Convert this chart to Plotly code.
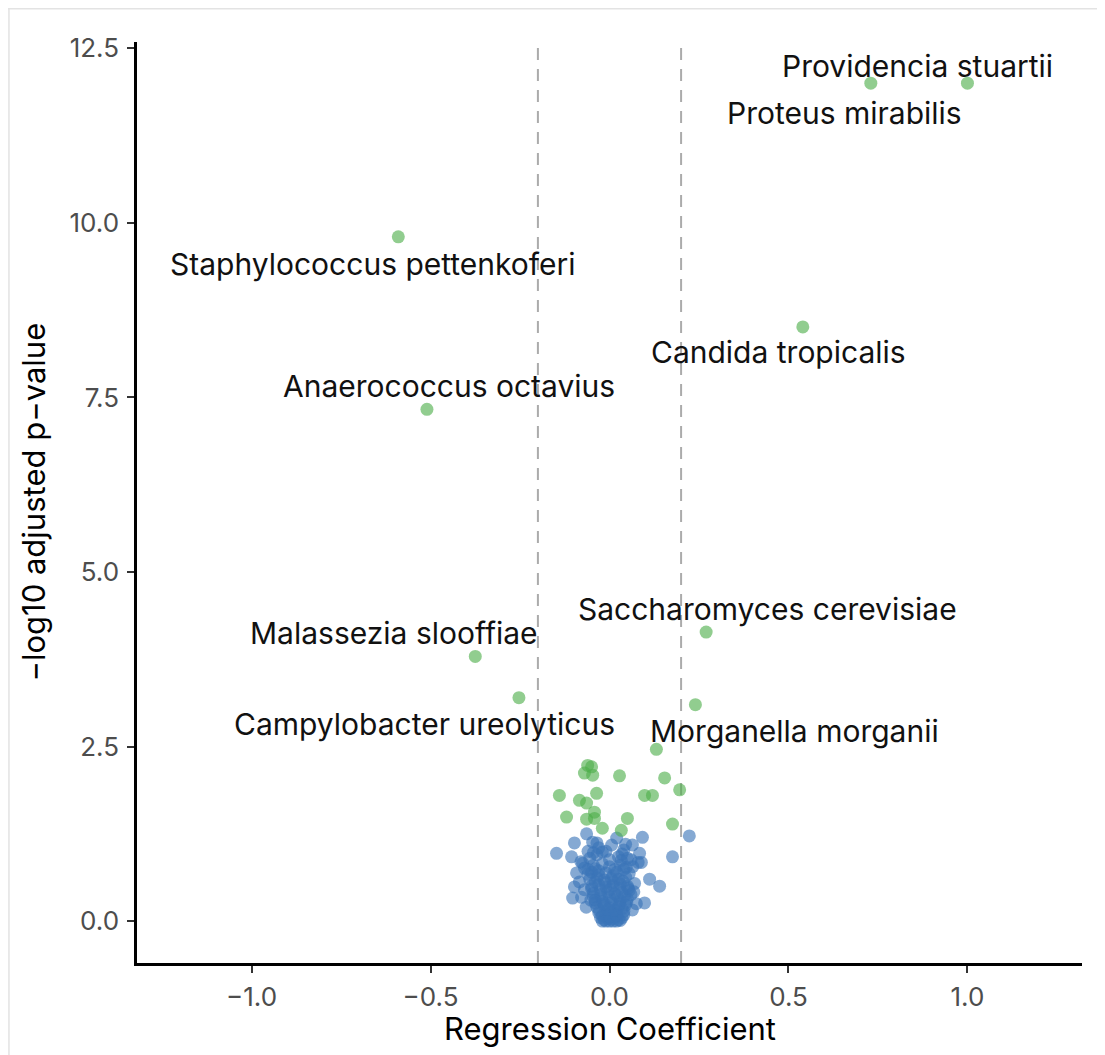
import plotly.graph_objects as go

# ---------------- data ----------------
# significant (green) points: regression coefficient, -log10 adjusted p
green_x = [1.00, 0.73, -0.59, 0.54, -0.51, 0.27, -0.375, -0.253, 0.24, 0.131,
           -0.061, -0.070, -0.047, -0.050, 0.028, 0.154, 0.196, -0.140, -0.084,
           -0.064, -0.036, 0.098, 0.120, -0.120, -0.064, -0.042, -0.042, 0.050,
           -0.020, 0.033, 0.176]
green_y = [12.0, 12.0, 9.80, 8.51, 7.33, 4.14, 3.79, 3.20, 3.10, 2.46,
           2.23, 2.12, 2.09, 2.21, 2.08, 2.05, 1.88, 1.80, 1.73,
           1.69, 1.83, 1.80, 1.80, 1.49, 1.46, 1.56, 1.47, 1.47,
           1.33, 1.30, 1.39]

# non-significant (blue) points
blue_x = [0.223, -0.148, 0.176, -0.064, -0.098, -0.047, 0.020, 0.092, 0.064, -0.106,
          -0.020, 0.084, 0.089, 0.047, -0.092, 0.112, 0.140, -0.098, -0.103, 0.098,
          0.064, 0.070, 0.033, 0.006, -0.075, -0.084, -0.078,
          -0.020, -0.010, 0.000, 0.010, 0.020, 0.030,
          -0.025, -0.005, 0.015, 0.035,
          -0.030, -0.010, 0.005, 0.020, 0.040,
          -0.035, -0.015, 0.000, 0.025, 0.045,
          -0.040, -0.020, 0.010, 0.030, 0.050,
          -0.045, -0.025, -0.005, 0.015, 0.035, 0.055,
          -0.050, -0.030, -0.010, 0.010, 0.030, 0.050,
          -0.055, -0.035, -0.015, 0.005, 0.025, 0.045,
          -0.050, -0.030, -0.010, 0.020, 0.040,
          -0.045, -0.020, 0.000, 0.030,
          -0.055, -0.035, 0.000, 0.025, 0.050,
          -0.060, -0.030, 0.040, -0.070, 0.060, -0.065, 0.075,
          -0.015, 0.005, 0.025, -0.020, 0.000, 0.020, 0.040,
          -0.030, -0.005, 0.015, 0.035, -0.040, -0.015, 0.005, 0.028, 0.048,
          -0.045, -0.022, 0.000, 0.022, 0.042, -0.050, -0.025, 0.002, 0.028, 0.052,
          -0.040, -0.012, 0.012, 0.038, -0.060, -0.030, 0.010, 0.055,
          -0.070, -0.040, 0.015, 0.065, -0.080, 0.080, -0.035, 0.045,
          -0.060, -0.045, -0.010, 0.035, 0.060, -0.052, 0.068]
blue_y = [1.22, 0.97, 0.92, 1.25, 1.12, 1.13, 1.19, 1.20, 1.09, 0.92,
          0.99, 0.97, 0.84, 0.77, 0.69, 0.60, 0.50, 0.49, 0.33, 0.26,
          0.16, 0.54, 0.87, 1.09, 0.83, 0.56, 0.34,
          0.00, 0.00, 0.00, 0.00, 0.00, 0.01,
          0.05, 0.04, 0.06, 0.05,
          0.12, 0.10, 0.13, 0.11, 0.14,
          0.20, 0.22, 0.19, 0.21, 0.23,
          0.30, 0.28, 0.31, 0.29, 0.32,
          0.40, 0.38, 0.42, 0.39, 0.41, 0.44,
          0.50, 0.52, 0.49, 0.51, 0.53, 0.50,
          0.60, 0.62, 0.59, 0.61, 0.60, 0.63,
          0.70, 0.72, 0.69, 0.70, 0.74,
          0.80, 0.82, 0.78, 0.80,
          0.90, 0.95, 0.88, 0.92, 0.90,
          1.00, 1.05, 1.02, 0.45, 0.38, 0.20, 0.25,
          0.02, 0.03, 0.02, 0.08, 0.07, 0.08, 0.09,
          0.16, 0.17, 0.16, 0.18, 0.26, 0.25, 0.26, 0.25, 0.27,
          0.35, 0.34, 0.35, 0.36, 0.36, 0.46, 0.45, 0.46, 0.47, 0.47,
          0.56, 0.55, 0.56, 0.57, 0.67, 0.66, 0.65, 0.68,
          0.76, 0.75, 0.74, 0.78, 0.85, 0.84, 1.12, 1.10,
          0.74, 0.98, 1.00, 0.96, 0.88, 0.30, 0.42]

label_names = ["Providencia stuartii", "Proteus mirabilis", "Staphylococcus pettenkoferi",
               "Candida tropicalis", "Anaerococcus octavius", "Saccharomyces cerevisiae",
               "Malassezia slooffiae", "Campylobacter ureolyticus", "Morganella morganii"]
# label placement (repelled text positions, data units)
label_pos_x = [0.860, 0.656, -0.662, 0.472, -0.447, 0.441, -0.601, -0.517, 0.517]
label_pos_y = [12.24, 11.57, 9.41, 8.15, 7.66, 4.47, 4.12, 2.82, 2.72]

x_ticks = [-1.0, -0.5, 0.0, 0.5, 1.0]
x_ticktext = ["\u22121.0", "\u22120.5", "0.0", "0.5", "1.0"]
y_ticks = [0.0, 2.5, 5.0, 7.5, 10.0, 12.5]
y_ticktext = ["0.0", "2.5", "5.0", "7.5", "10.0", "12.5"]
threshold = [-0.2, 0.2]

FONT = "Inter"

fig = go.Figure()
fig.add_trace(go.Scatter(x=blue_x, y=blue_y, mode="markers",
                         marker=dict(size=13, color="#3a75b8", opacity=0.62, line=dict(width=0)),
                         showlegend=False, hoverinfo="skip"))
fig.add_trace(go.Scatter(x=green_x, y=green_y, mode="markers",
                         marker=dict(size=13, color="#4daf4a", opacity=0.62, line=dict(width=0)),
                         showlegend=False, hoverinfo="skip"))

for t in threshold:
    fig.add_shape(type="line", xref="x", yref="paper", x0=t, x1=t, y0=0, y1=1,
                  line=dict(color="#ababab", width=2, dash="12px,9px"), layer="below")

for name, lx, ly in zip(label_names, label_pos_x, label_pos_y):
    fig.add_annotation(x=lx, y=ly, xref="x", yref="y", text=name, showarrow=False,
                       xanchor="center", yanchor="middle",
                       font=dict(family=FONT, size=30, color="#111111"))

# axis titles
fig.add_annotation(x=0.5, y=-0.071, xref="paper", yref="paper", text="Regression Coefficient",
                   showarrow=False, xanchor="center", yanchor="middle",
                   font=dict(family=FONT, size=31, color="#000000"))
fig.add_annotation(x=-0.11, y=0.5, xref="paper", yref="paper", text="\u2212log10 adjusted p\u2212value",
                   showarrow=False, xanchor="center", yanchor="middle", textangle=-90,
                   font=dict(family=FONT, size=31, color="#000000"))

# faint frame of the original screenshot (top and left edges)
fig.add_shape(type="line", xref="paper", yref="paper", x0=-0.137, x1=1.03, y0=1.036, y1=1.036,
              line=dict(color="#e3e3e3", width=1.5))
fig.add_shape(type="line", xref="paper", yref="paper", x0=-0.1355, x1=-0.1355, y0=-0.11, y1=1.036,
              line=dict(color="#e3e3e3", width=1.5))

# page body has an 8px margin, so the figure is 8px smaller and margins shifted
fig.update_layout(
    width=1097, height=1047,
    margin=dict(l=129, r=23, t=34, b=92),
    paper_bgcolor="white", plot_bgcolor="white",
    font=dict(family=FONT),
    xaxis=dict(range=[-1.32, 1.32], tickvals=x_ticks, ticktext=x_ticktext,
               showgrid=False, zeroline=False, showline=True, linecolor="#000000", linewidth=2.5,
               ticks="outside", ticklen=7, tickwidth=2, tickcolor="#333333",
               ticklabelstandoff=2,
               tickfont=dict(family=FONT, size=26, color="#4d4d4d")),
    yaxis=dict(range=[-0.6, 12.59], tickvals=y_ticks, ticktext=y_ticktext,
               showgrid=False, zeroline=False, showline=True, linecolor="#000000", linewidth=2.5,
               ticks="outside", ticklen=7, tickwidth=2, tickcolor="#333333",
               ticklabelstandoff=3,
               tickfont=dict(family=FONT, size=26, color="#4d4d4d")),
)

fig.write_html("out.html")
